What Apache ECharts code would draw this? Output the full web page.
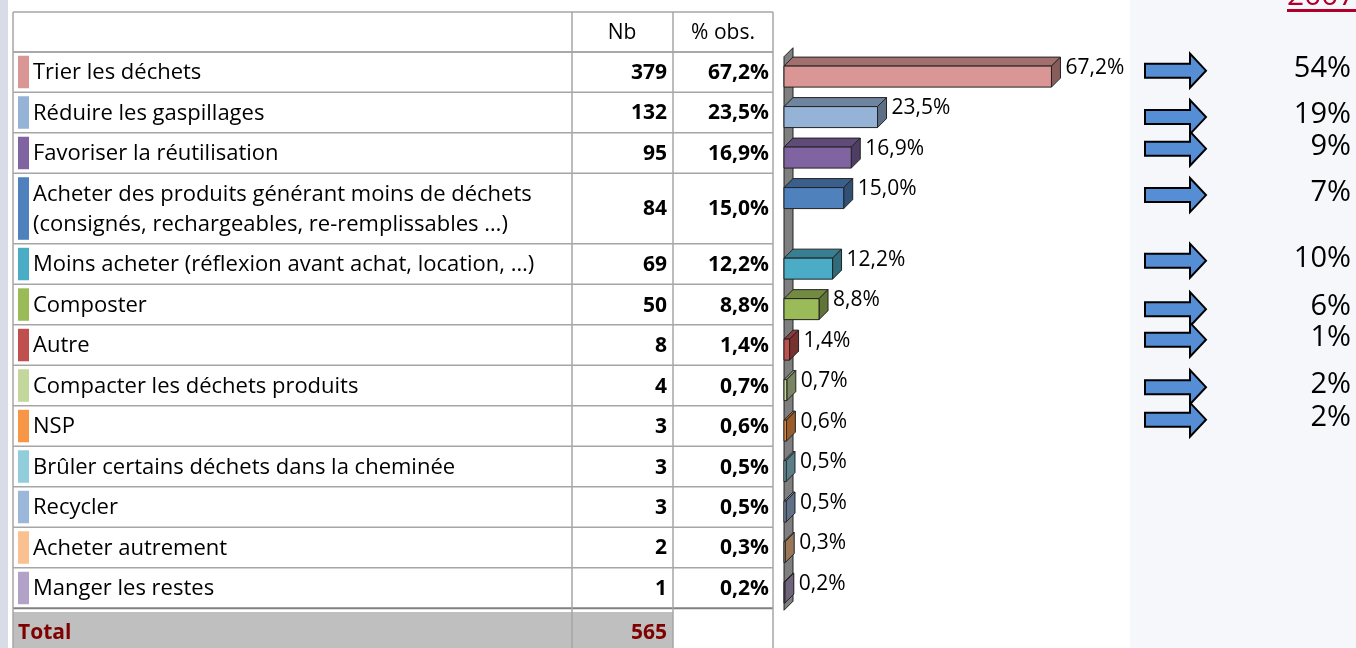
<!DOCTYPE html>
<html>
<head>
<meta charset="utf-8">
<script src="https://cdn.jsdelivr.net/npm/echarts@6/dist/echarts.min.js"></script>
<style>
html,body{margin:0;padding:0;background:#fff;}
#main{width:1356px;height:648px;}
</style>
</head>
<body>
<div id="main"></div>
<script>
// données
var labels = [
    'Trier les déchets',
    'Réduire les gaspillages',
    'Favoriser la réutilisation',
    'Acheter des produits générant moins de déchets\n(consignés, rechargeables, re-remplissables …)',
    'Moins acheter (réflexion avant achat, location, …)',
    'Composter',
    'Autre',
    'Compacter les déchets produits',
    'NSP',
    'Brûler certains déchets dans la cheminée',
    'Recycler',
    'Acheter autrement',
    'Manger les restes'
];
var counts = [379, 132, 95, 84, 69, 50, 8, 4, 3, 3, 3, 2, 1];
var pcts = [67.2, 23.5, 16.9, 15.0, 12.2, 8.8, 1.4, 0.7, 0.6, 0.5, 0.5, 0.3, 0.2];
var total = 565;
var colors = ['#d99694', '#95b3d7', '#8064a2', '#4f81bd', '#4bacc6', '#9bbb59', '#c0504d',
              '#c3d69b', '#f79646', '#92cddc', '#9bb7d9', '#fac090', '#b3a2c7'];
var values2007 = [54, 19, 9, 7, 10, 6, 1, 2, 2];

// mise en page
var ROW_H = 40.75, LINE_H = 30.25, HEAD_H = 40, TOT_H = 40;
var arrowShift = [19, 25, 16, 22, 17, 25, 15, 22, 14];
var rowH = labels.map(function (l) { return ROW_H + (l.split('\n').length - 1) * LINE_H; });
var rowTop = [];
var acc = 0;
rowH.forEach(function (h) { rowTop.push(acc); acc += h; });
var bodyH = acc;

var X_TAB = 13, X_NB = 572, X_PCT = 673, X_END = 773;
var FONT = '"Open Sans", "DejaVu Sans", sans-serif';

function fmt(v) { return v.toFixed(1).replace('.', ',') + '%'; }
function shade(hex, k) {
    var n = parseInt(hex.slice(1), 16);
    var r = Math.round(((n >> 16) & 255) * k), g = Math.round(((n >> 8) & 255) * k), b = Math.round((n & 255) * k);
    return 'rgb(' + r + ',' + g + ',' + b + ')';
}
function txt(text, x, y, font, fill, align) {
    return { text: text, x: x, y: y, fill: fill, font: font, align: align, verticalAlign: 'middle', textAlign: align, textVerticalAlign: 'middle' };
}

function renderRow(params, api) {
    var i = api.value(0);
    var yT = api.coord([0, rowTop[i]])[1];
    var yB = api.coord([0, rowTop[i] + rowH[i]])[1];
    var yM = (yT + yB) / 2;
    var last = i === labels.length - 1;
    var lbl = txt(labels[i], 33, yM + 1, '22px ' + FONT, '#000', 'left');
    lbl.lineHeight = 30;
    return {
        type: 'group',
        children: [
            { type: 'rect', shape: { x: 18, y: yT + 4, width: 11, height: yB - yT - 8 }, style: { fill: colors[i] } },
            { type: 'text', style: lbl },
            { type: 'text', style: txt(String(counts[i]), 667, yM + 1, 'bold 21px ' + FONT, '#000', 'right') },
            { type: 'text', style: txt(fmt(pcts[i]), 769, yM + 1, 'bold 21px ' + FONT, '#000', 'right') },
            { type: 'line', shape: { x1: X_TAB, y1: yB, x2: X_END, y2: yB }, style: { stroke: last ? '#808080' : '#a6a6a6', lineWidth: last ? 2 : 1.5 } }
        ]
    };
}

function renderBar(params, api) {
    var v = api.value(0), yv = api.value(1), i = api.value(2);
    var p0 = api.coord([0, yv]), p1 = api.coord([v, yv]);
    var h = 21, d = 9;
    var x0 = p0[0], x1 = p1[0], top = p0[1] - h / 2, bot = p0[1] + h / 2;
    var c = colors[i];
    return {
        type: 'group',
        children: [
            { type: 'polygon', shape: { points: [[x0, top], [x0 + d, top - d], [x1 + d, top - d], [x1, top]] }, style: { fill: shade(c, 0.74), stroke: '#222', lineWidth: 1 } },
            { type: 'polygon', shape: { points: [[x1, top], [x1 + d, top - d], [x1 + d, bot - d], [x1, bot]] }, style: { fill: shade(c, 0.62), stroke: '#222', lineWidth: 1 } },
            { type: 'rect', shape: { x: x0, y: top, width: x1 - x0, height: h }, style: { fill: c, stroke: '#222', lineWidth: 1 } },
            { type: 'text', style: txt(fmt(v), x1 + d + 5, p0[1] - 9, '21px ' + FONT, '#000', 'left') }
        ]
    };
}

function renderWall(params, api) {
    var a = api.coord([0, 5]), b = api.coord([0, bodyH + 2]);
    var d = 9;
    return {
        type: 'polygon',
        shape: { points: [[a[0], a[1]], [a[0] + d, a[1] - d], [b[0] + d, b[1] - d], [b[0], b[1]]] },
        style: { fill: '#7f7f7f', stroke: '#222', lineWidth: 1 }
    };
}

function renderArrow(params, api) {
    var v = api.value(0), yv = api.value(1);
    var c = api.coord([0, yv])[1];
    var x = 1145;
    return {
        type: 'group',
        children: [
            { type: 'polygon', shape: { points: [[x, c - 7], [x + 45, c - 7], [x + 45, c - 17], [x + 61, c], [x + 45, c + 17], [x + 45, c + 7], [x, c + 7]] }, style: { fill: '#558ed5', stroke: '#000', lineWidth: 2 } },
            { type: 'text', style: txt(v + '%', 1351, c - 2, '29px ' + FONT, '#000', 'right') }
        ]
    };
}

var chart = echarts.init(document.getElementById('main'));
var option = {
    animation: false,
    grid: { left: 784, width: 70 * 3.98, top: 12, height: HEAD_H + bodyH + TOT_H },
    xAxis: { type: 'value', min: 0, max: 70, show: false },
    yAxis: { type: 'value', min: -HEAD_H, max: bodyH + TOT_H, inverse: true, show: false },
    graphic: [
        { type: 'rect', shape: { x: 0, y: 0, width: 8, height: 648 }, style: { fill: '#d8dce7' }, z: 0 },
        { type: 'rect', shape: { x: 1130, y: 0, width: 226, height: 648 }, style: { fill: '#f6f7fa' }, z: 0 },
        { type: 'text', style: txt('2007', 1287, -4, '30px ' + FONT, '#b0002a', 'left'), z: 1 },
        { type: 'rect', shape: { x: 1287, y: 9, width: 69, height: 3 }, style: { fill: '#b0002a' }, z: 1 },
        // ligne Total
        { type: 'rect', shape: { x: X_TAB, y: 52 + bodyH, width: X_PCT - X_TAB, height: TOT_H }, style: { fill: '#bfbfbf' }, z: 0 },
        { type: 'text', style: txt('Total', 18, 52 + bodyH + 21, 'bold 21px ' + FONT, '#7f0000', 'left'), z: 5 },
        { type: 'text', style: txt(String(total), 667, 52 + bodyH + 21, 'bold 21px ' + FONT, '#7f0000', 'right'), z: 5 },
        // en-tête
        { type: 'text', style: txt('Nb', 622, 33, '21px ' + FONT, '#000', 'center'), z: 5 },
        { type: 'text', style: txt('% obs.', 723, 33, '21px ' + FONT, '#000', 'center'), z: 5 },
        { type: 'line', shape: { x1: X_TAB, y1: 12, x2: X_END, y2: 12 }, style: { stroke: '#a6a6a6', lineWidth: 1.5 }, z: 5 },
        { type: 'line', shape: { x1: X_TAB, y1: 52, x2: X_END, y2: 52 }, style: { stroke: '#8c8c8c', lineWidth: 1.5 }, z: 5 },
        { type: 'line', shape: { x1: X_TAB, y1: 12, x2: X_TAB, y2: 648 }, style: { stroke: '#a6a6a6', lineWidth: 1.5 }, z: 5 },
        { type: 'line', shape: { x1: X_NB, y1: 12, x2: X_NB, y2: 648 }, style: { stroke: '#a6a6a6', lineWidth: 1.5 }, z: 5 },
        { type: 'line', shape: { x1: X_PCT, y1: 12, x2: X_PCT, y2: 648 }, style: { stroke: '#a6a6a6', lineWidth: 1.5 }, z: 5 },
        { type: 'line', shape: { x1: X_END, y1: 12, x2: X_END, y2: 648 }, style: { stroke: '#a6a6a6', lineWidth: 1.5 }, z: 5 }
    ],
    series: [
        { type: 'custom', name: 'table', renderItem: renderRow, clip: false, data: labels.map(function (l, i) { return [i]; }) },
        { type: 'custom', name: 'wall', renderItem: renderWall, clip: false, data: [[0]] },
        { type: 'custom', name: 'bars', renderItem: renderBar, clip: false, data: pcts.map(function (v, i) { return [v, rowTop[i] + 25, i]; }) },
        { type: 'custom', name: '2007', renderItem: renderArrow, clip: false, data: values2007.map(function (v, i) { return [v, rowTop[i] + arrowShift[i]]; }) }
    ]
};
chart.setOption(option);
</script>
</body>
</html>
